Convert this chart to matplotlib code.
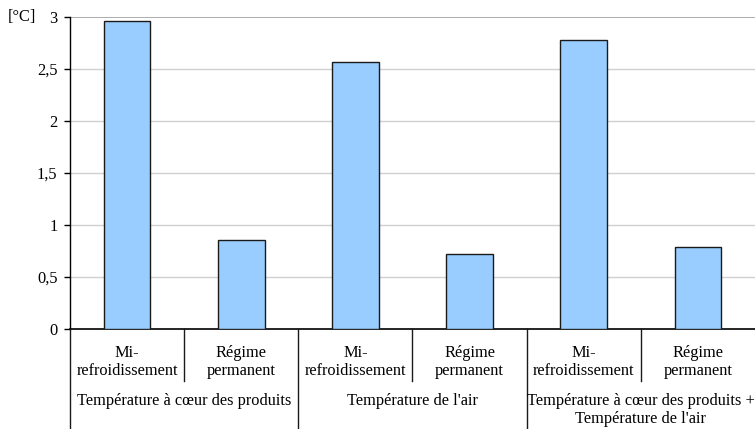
import matplotlib.pyplot as plt
from matplotlib.ticker import FuncFormatter
from matplotlib.transforms import blended_transform_factory

# Écarts de température par situation
sous_categories = ["Mi-\nrefroidissement", "Régime\npermanent"] * 3
groupes = ["Température à cœur des produits",
           "Température de l'air",
           "Température à cœur des produits +\nTempérature de l'air"]
valeurs = [2.96, 0.86, 2.57, 0.72, 2.78, 0.79]
yticks = [0, 0.5, 1, 1.5, 2, 2.5, 3]

plt.rcParams['font.family'] = ['Liberation Serif', 'DejaVu Serif']
fs = 11.8

fig = plt.figure(figsize=(7.55, 4.29), dpi=100)
ax = fig.add_axes([70 / 755, 100 / 429, 685 / 755, 312 / 429])

x = list(range(len(valeurs)))
ax.bar(x, valeurs, width=0.41, color='#99ccff', edgecolor='#1a1a1a',
       linewidth=1.0, zorder=3)

ax.set_xlim(-0.5, len(valeurs) - 0.5)
ax.set_ylim(0, 3)
ax.set_yticks(yticks)
ax.yaxis.set_major_formatter(FuncFormatter(
    lambda v, pos: f"{v:g}".replace('.', ',')))
ax.tick_params(axis='y', direction='out', length=4, width=1,
               labelsize=fs, pad=5)
ax.set_xticks([])

# grille
for v in yticks[1:-1]:
    ax.axhline(v, color='#d0d0d0', linewidth=1, zorder=1)
ax.axhline(3, color='#a0a0a0', linewidth=1.2, zorder=1)

for side in ['top', 'right']:
    ax.spines[side].set_visible(False)
ax.spines['left'].set_linewidth(1)
ax.spines['bottom'].set_linewidth(1.2)

# étiquettes de l'axe des x en deux niveaux
trans = blended_transform_factory(ax.transData, fig.transFigure)
y0 = 100 / 429
for i, lab in enumerate(sous_categories):
    fig.text(i, 1 - 362 / 429, lab, transform=trans, ha='center', va='center',
             fontsize=fs, linespacing=1.1)
for g, lab in enumerate(groupes):
    yy = 410 if '\n' in lab else 401
    fig.text(2 * g + 0.5, 1 - yy / 429, lab, transform=trans,
             ha='center', va='center', fontsize=fs, linespacing=1.1)

# séparateurs
for b in [0.5, 2.5, 4.5]:
    fig.add_artist(plt.Line2D([b, b], [y0, 1 - 381 / 429], transform=trans,
                              color='#1a1a1a', linewidth=1))
for b in [-0.5, 1.5, 3.5]:
    fig.add_artist(plt.Line2D([b, b], [y0, 0], transform=trans,
                              color='#1a1a1a', linewidth=1))

fig.text(22 / 755, 1 - 17 / 429, "[°C]", ha='center', va='center',
         fontsize=fs)

fig.savefig('out.png', dpi=100)
